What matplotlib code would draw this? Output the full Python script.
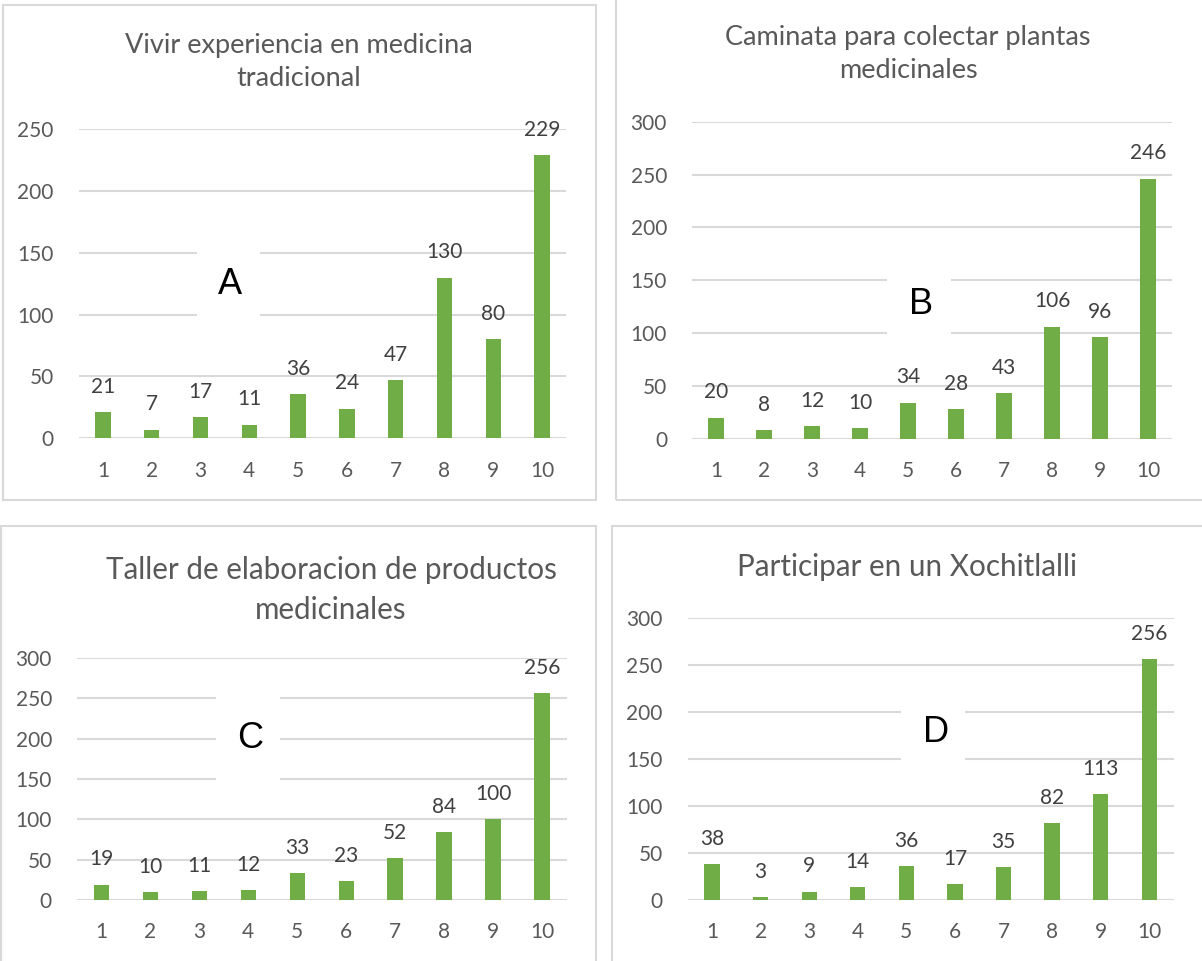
import matplotlib
matplotlib.use("Agg")
import matplotlib.pyplot as plt
from matplotlib.patches import Rectangle

W, H = 1202, 961

categories = [1, 2, 3, 4, 5, 6, 7, 8, 9, 10]

values_a = [21, 7, 17, 11, 36, 24, 47, 130, 80, 229]
values_b = [20, 8, 12, 10, 34, 28, 43, 106, 96, 246]
values_c = [19, 10, 11, 12, 33, 23, 52, 84, 100, 256]
values_d = [38, 3, 9, 14, 36, 17, 35, 82, 113, 256]

titles = [
    "Vivir experiencia en medicina\ntradicional",
    "Caminata para colectar plantas\nmedicinales",
    "Taller de elaboracion de productos\nmedicinales",
    "Participar en un Xochitlalli",
]
letters = ["A", "B", "C", "D"]
y_max = [250, 300, 300, 300]

GREEN = "#70AD47"
GRID = "#D9D9D9"
TXT = "#595959"
LBL = "#404040"

plt.rcParams["font.family"] = ["Lato", "DejaVu Sans"]

# panel layout in pixels: border box, plot area, title centre, letter centre, blank box
panels = [
    dict(border=(3, 5, 596, 500), plot=(78.6, 566.4, 129.3, 438.3),
         title=(299, 62), tsize=19.5, tspace=1.42,
         letter=(230, 284), blank=(197, 235, 63, 100)),
    dict(border=(616, -2, 1205, 500), plot=(692, 1172, 121.7, 438.7),
         title=(908, 54), tsize=19.5, tspace=1.42,
         letter=(921, 305), blank=(887, 255, 64, 100)),
    dict(border=(1, 526, 596, 965), plot=(77, 566.5, 658, 900),
         title=(331, 590), tsize=21.3, tspace=1.52,
         letter=(250, 738), blank=(216, 688, 64, 100)),
    dict(border=(611.5, 526, 1205, 965), plot=(687.7, 1173.6, 618, 900),
         title=(907, 567), tsize=21.3, tspace=1.52,
         letter=(936, 733), blank=(901, 683, 64, 100)),
]

fig = plt.figure(figsize=(W / 100, H / 100), dpi=100)


def fx(x):
    return x / W


def fy(y):
    return 1 - y / H


for i, vals in enumerate([values_a, values_b, values_c, values_d]):
    p = panels[i]
    x0, y0, x1, y1 = p["border"]
    fig.patches.append(Rectangle((fx(x0), fy(y1)), fx(x1 - x0), (y1 - y0) / H,
                                 transform=fig.transFigure, fill=False,
                                 edgecolor=GRID, linewidth=1.5, zorder=0))

    l, r, t, b = p["plot"]
    ax = fig.add_axes([fx(l), fy(b), fx(r - l), (b - t) / H])
    ax.bar(categories, vals, width=0.315, color=GREEN, zorder=2)
    for c, v in zip(categories, vals):
        ax.annotate(str(v), (c, v), xytext=(0, 11), textcoords="offset points",
                    ha="center", va="bottom", fontsize=15, color=LBL)

    ax.set_xlim(0.5, 10.5)
    ax.set_ylim(0, y_max[i])
    ax.set_yticks(range(0, y_max[i] + 1, 50))
    ax.set_xticks(categories)
    ax.set_axisbelow(True)
    ax.grid(axis="y", color=GRID, linewidth=1.5)
    ax.tick_params(length=0, labelsize=15, colors=TXT)
    ax.tick_params(axis="x", pad=16)
    ax.tick_params(axis="y", pad=18)
    for s in ax.spines.values():
        s.set_visible(False)
    ax.patch.set_alpha(0)

    bx, by, bw, bh = p["blank"]
    fig.patches.append(Rectangle((fx(bx), fy(by + bh)), fx(bw), bh / H,
                                 transform=fig.transFigure, facecolor="white",
                                 edgecolor="none", zorder=5))
    fig.text(fx(p["letter"][0]), fy(p["letter"][1]), letters[i],
             family="Liberation Sans", fontsize=26, color="black",
             ha="center", va="center", zorder=6)

    fig.text(fx(p["title"][0]), fy(p["title"][1]), titles[i], fontsize=p["tsize"],
             color=TXT, ha="center", va="center", linespacing=p["tspace"], zorder=6)

fig.savefig("out.png", dpi=100, facecolor="white")
